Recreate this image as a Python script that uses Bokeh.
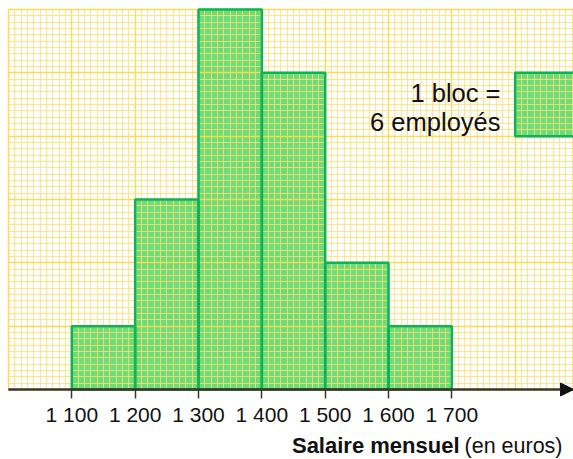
from bokeh.plotting import figure
from bokeh.models import (Range1d, FixedTicker, SingleIntervalTicker, Arrow, NormalHead)
from bokeh.core.properties import value
from bokeh.embed import file_html
from bokeh.resources import INLINE

# Data
edges = [1100, 1200, 1300, 1400, 1500, 1600, 1700]
counts = [6, 18, 36, 30, 12, 6]
tick_values = [1100, 1200, 1300, 1400, 1500, 1600, 1700]
tick_labels = ["1 100", "1 200", "1 300", "1 400", "1 500", "1 600", "1 700"]
block_size = 6          # employees per block
block_x = [1800, 1900]  # legend block salary span
block_y = [24, 30]      # legend block employee span
x_origin = 1000
y_top = 36

W, H = 573, 459
PX = 0.63333            # px per euro
PU = 380 / 36           # px per employee
x_min = x_origin - 8 / PX
x_max = x_origin + 565 / PX
y_min = -70 / PU
y_max = y_top + 9 / PU

def cx(px):  # canvas px -> data x
    return x_origin + (px - 8) / PX

def cy(py):  # canvas px -> data y
    return (389 - py) / PU

p = figure(width=W, height=H, output_backend="svg", toolbar_location=None,
           x_range=Range1d(x_min, x_max), y_range=Range1d(y_min, y_max),
           min_border_left=0, min_border_right=0, min_border_top=0, min_border_bottom=0)
p.outline_line_color = None
p.background_fill_color = "white"
p.border_fill_color = "white"

GREEN_FILL = "#6fdc7c"
GREEN_LINE = "#0db356"

# Bars: fill below grid, outline above
p.quad(left=edges[:-1], right=edges[1:], bottom=0, top=counts,
       fill_color=GREEN_FILL, line_color=None, level="image")
p.quad(left=[block_x[0]], right=[block_x[1]], bottom=[block_y[0]], top=[block_y[1]],
       fill_color=GREEN_FILL, line_color=None, level="image")

# grid (squared paper)
p.xgrid.ticker = SingleIntervalTicker(interval=100, num_minor_ticks=10)
p.ygrid.ticker = SingleIntervalTicker(interval=block_size, num_minor_ticks=10)
p.xgrid.bounds = (x_origin - 0.5, x_max + 50)
p.ygrid.bounds = (-0.01, y_top + 0.01)
use_covers = False
try:
    p.xgrid.cross_bounds = (0, y_top)
    p.ygrid.cross_bounds = (x_origin, x_max + 50)
except Exception:
    use_covers = True
for g in (p.xgrid, p.ygrid):
    g.grid_line_color = "#fdd94e"
    g.grid_line_width = 1.5
    g.grid_line_alpha = 0.9
    g.minor_grid_line_color = "#ffe070"
    g.minor_grid_line_width = 1.0
    g.minor_grid_line_alpha = 0.8

if use_covers:
    p.quad(left=[x_min, x_min, x_min], right=[x_max, x_max, x_origin],
           bottom=[y_min, y_top, 0], top=[0, y_max, y_top],
           fill_color="white", line_color=None)

p.quad(left=edges[:-1], right=edges[1:], bottom=0, top=counts,
       fill_color=None, line_color=GREEN_LINE, line_width=2.5)
p.quad(left=[block_x[0]], right=[block_x[1]], bottom=[block_y[0]], top=[block_y[1]],
       fill_color=None, line_color=GREEN_LINE, line_width=2.5)

# axes
p.yaxis.visible = False
xa = p.xaxis[0]
xa.fixed_location = 0
xa.bounds = (x_origin, x_max)
xa.ticker = FixedTicker(ticks=tick_values, minor_ticks=[])
xa.major_label_overrides = {v: l for v, l in zip(tick_values, tick_labels)}
xa.axis_line_color = "#3a3726"
xa.axis_line_width = 2
xa.major_tick_line_color = "#3a3726"
xa.major_tick_line_width = 1.5
xa.major_tick_in = 0
xa.major_tick_out = 9
xa.minor_tick_in = 0
xa.minor_tick_out = 0
xa.major_label_standoff = 4
xa.major_label_text_font = "Liberation Sans"
xa.major_label_text_font_size = "21px"
xa.major_label_text_color = "#111111"

p.add_layout(Arrow(end=NormalHead(size=13, fill_color="#111111", line_color="#111111"),
                   x_start=x_origin, y_start=0, x_end=x_max, y_end=0,
                   line_color="#3a3726", line_width=2))

# axis title
p.text(x=[cx(562)], y=[cy(445)], text=["(en euros)"], text_align="right",
       text_baseline="middle", text_font=value("Liberation Sans"),
       text_font_size="21.5px", text_color="#111111")
p.text(x=[cx(459)], y=[cy(445)], text=["Salaire mensuel"], text_align="right",
       text_baseline="middle", text_font=value("Liberation Sans"), text_font_style="bold",
       text_font_size="22px", text_color="#111111")

# legend text
p.text(x=[cx(500), cx(500)], y=[cy(92), cy(121)],
       text=["1 bloc =", f"{block_size} employés"], text_align="right",
       text_baseline="middle", text_font=value("Liberation Sans"),
       text_font_size="25.5px", text_color="#111111")

open("out.html", "w").write(file_html(p, INLINE))
